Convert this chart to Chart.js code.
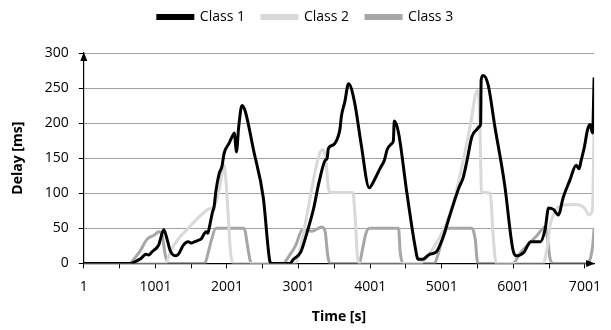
<!DOCTYPE html>
<html>
<head>
<meta charset="utf-8">
<script src="https://cdn.jsdelivr.net/npm/chart.js@4.4.0/dist/chart.umd.min.js"></script>
<style>
    html, body { margin: 0; padding: 0; background: #fff; }
    #wrap { width: 611px; height: 330px; }
</style>
</head>
<body>
<div id="wrap"><canvas id="delayChart" width="611" height="330"></canvas></div>
<script>
// Class 1 (black)
const class1Time = [1, 660, 708, 800, 868, 910, 958, 1026, 1050, 1072, 1118, 1163, 1209, 1277, 1322, 1391, 1459, 1500, 1551,
    1600, 1641, 1709, 1735, 1756, 1801, 1820, 1846, 1892, 1930, 1961, 2029, 2074, 2106, 2120, 2133, 2166, 2211, 2256, 2371,
    2508, 2598, 2621, 2880, 2930, 3031, 3122, 3213, 3281, 3373, 3400, 3418, 3486, 3554, 3580, 3600, 3646, 3700, 3783, 3874,
    3988, 4055, 4147, 4200, 4238, 4306, 4325, 4339, 4398, 4511, 4626, 4671, 4739, 4830, 4921, 5012, 5104, 5241, 5300, 5355,
    5423, 5491, 5537, 5545, 5552, 5583, 5651, 5742, 5879, 5993, 6038, 6151, 6243, 6380, 6448, 6493, 6561, 6630, 6698, 6789,
    6880, 6920, 6949, 6994, 7039, 7072, 7108, 7130];
const class1Delay = [0, 0, 2, 7, 13, 12, 17, 23, 27, 35, 48, 35, 18, 11, 13, 26, 31, 29, 31,
    33, 35, 45, 43, 52, 74, 80, 103, 128, 138, 157, 171, 181, 186, 170, 159, 196, 225, 217, 162,
    94, 4, 0, 0, 6, 16, 45, 79, 113, 147, 150, 164, 169, 181, 192, 210, 230, 256, 230, 171,
    108, 118, 137, 147, 162, 171, 175, 203, 186, 103, 26, 6, 6, 13, 16, 35, 65, 108, 122, 147,
    181, 191, 196, 200, 262, 268, 254, 196, 113, 21, 11, 16, 31, 31, 50, 79, 77, 69, 94, 118,
    140, 135, 147, 166, 191, 198, 186, 265];

// Class 2 (light grey)
const class2Time = [1, 1140, 1180, 1231, 1322, 1459, 1596, 1733, 1824, 1869, 1915, 1961, 1985, 2006, 2051, 2097, 2950, 3000,
    3054, 3145, 3236, 3304, 3350, 3382, 3418, 3450, 3760, 3792, 3828, 3865, 4680, 4876, 5058, 5195, 5332, 5423, 5468, 5505,
    5530, 5557, 5580, 5680, 5719, 5764, 6420, 6470, 6516, 6584, 6676, 6880, 6994, 7062, 7090, 7108, 7130];
const class2Delay = [0, 0, 8, 21, 35, 50, 65, 77, 82, 94, 118, 140, 120, 89, 16, 0, 0, 10,
    35, 84, 133, 159, 162, 147, 108, 101, 101, 65, 6, 0, 0, 21, 55, 99, 162, 210, 239, 247,
    215, 103, 101, 100, 40, 0, 0, 20, 55, 74, 83, 84, 79, 69, 72, 79, 200];

// Class 3 (mid grey)
const class3Time = [1, 640, 700, 776, 890, 981, 1049, 1094, 1141, 1186, 1690, 1709, 1740, 1778, 1846, 2234, 2257, 2279, 2325,
    2345, 2800, 2826, 2963, 3054, 3191, 3327, 3373, 3409, 3441, 3850, 3896, 3940, 3988, 4398, 4421, 4466, 4900, 4944, 5012,
    5081, 5423, 5468, 5505, 5993, 6106, 6220, 6334, 6448, 6480, 6516, 6561, 7040, 7080, 7110, 7130];
const class3Delay = [0, 0, 6, 16, 35, 40, 45, 40, 11, 0, 0, 4, 16, 31, 50, 50, 45, 31, 4,
    0, 0, 4, 26, 48, 46, 52, 45, 11, 0, 0, 21, 42, 50, 50, 16, 0, 0, 11, 35,
    50, 50, 35, 0, 0, 16, 28, 40, 52, 35, 6, 0, 0, 8, 25, 50];

const timeTicks = [1, 501, 1001, 1501, 2001, 2501, 3001, 3501, 4001, 4501, 5001, 5501, 6001, 6501, 7001];
const timeLabels = [1, 1001, 2001, 3001, 4001, 5001, 6001, 7001];
const delayTicks = [0, 50, 100, 150, 200, 250, 300];

function toPoints(xs, ys) {
    return xs.map((x, i) => ({ x: x, y: ys[i] }));
}

// arrow heads on the ends of both axes
const axisArrows = {
    id: 'axisArrows',
    afterDatasetsDraw(chart) {
        const { ctx, chartArea } = chart;
        ctx.save();
        ctx.fillStyle = '#000';
        ctx.beginPath();
        ctx.moveTo(chartArea.left, chartArea.top - 1);
        ctx.lineTo(chartArea.left - 3.5, chartArea.top + 8);
        ctx.lineTo(chartArea.left + 3.5, chartArea.top + 8);
        ctx.closePath();
        ctx.fill();
        ctx.beginPath();
        ctx.moveTo(chartArea.right + 1, chartArea.bottom);
        ctx.lineTo(chartArea.right - 8, chartArea.bottom - 3.5);
        ctx.lineTo(chartArea.right - 8, chartArea.bottom + 3.5);
        ctx.closePath();
        ctx.fill();
        ctx.restore();
    }
};

// extra room between legend and plot
const legendGap = {
    id: 'legendGap',
    beforeInit(chart) {
        const fit = chart.legend.fit;
        chart.legend.fit = function () {
            fit.bind(chart.legend)();
            this.height += 19;
        };
    }
};

Chart.defaults.font.family = "'Open Sans', sans-serif";
Chart.defaults.font.size = 14;
Chart.defaults.color = '#000';

const lineStyle = {
    borderWidth: 3,
    pointRadius: 0,
    fill: false,
    cubicInterpolationMode: 'monotone'
};

new Chart(document.getElementById('delayChart'), {
    type: 'line',
    data: {
        datasets: [
            { label: 'Class 1', data: toPoints(class1Time, class1Delay), borderColor: '#000000', backgroundColor: '#000000', ...lineStyle },
            { label: 'Class 2', data: toPoints(class2Time, class2Delay), borderColor: '#d9d9d9', backgroundColor: '#d9d9d9', ...lineStyle },
            { label: 'Class 3', data: toPoints(class3Time, class3Delay), borderColor: '#a6a6a6', backgroundColor: '#a6a6a6', ...lineStyle }
        ]
    },
    options: {
        responsive: false,
        animation: false,
        devicePixelRatio: 1,
        layout: { padding: { left: 6, right: 6, top: -7, bottom: 1 } },
        plugins: {
            legend: {
                position: 'top',
                labels: { boxWidth: 35, boxHeight: 3, padding: 17 }
            },
            tooltip: { enabled: false }
        },
        scales: {
            x: {
                type: 'linear',
                min: 1,
                max: 7130,
                afterBuildTicks: (scale) => {
                    scale.ticks = timeTicks.map(v => ({ value: v }));
                },
                ticks: {
                    autoSkip: false,
                    maxRotation: 0,
                    padding: 10,
                    callback: (v) => timeLabels.includes(v) ? String(v) : ''
                },
                grid: { drawOnChartArea: false, tickLength: 5, tickColor: '#000' },
                border: { color: '#000', width: 1.2 },
                title: { display: true, text: 'Time [s]', font: { weight: 'bold' }, padding: { top: 3 } }
            },
            y: {
                min: 0,
                max: 300,
                afterBuildTicks: (scale) => {
                    scale.ticks = delayTicks.map(v => ({ value: v }));
                },
                ticks: { padding: 10 },
                grid: { color: '#a0a0a0', tickLength: 5, tickColor: '#000' },
                border: { color: '#000', width: 1.2 },
                title: { display: true, text: 'Delay [ms]', font: { weight: 'bold' }, padding: { bottom: 8 } }
            }
        }
    },
    plugins: [axisArrows, legendGap]
});
</script>
</body>
</html>
